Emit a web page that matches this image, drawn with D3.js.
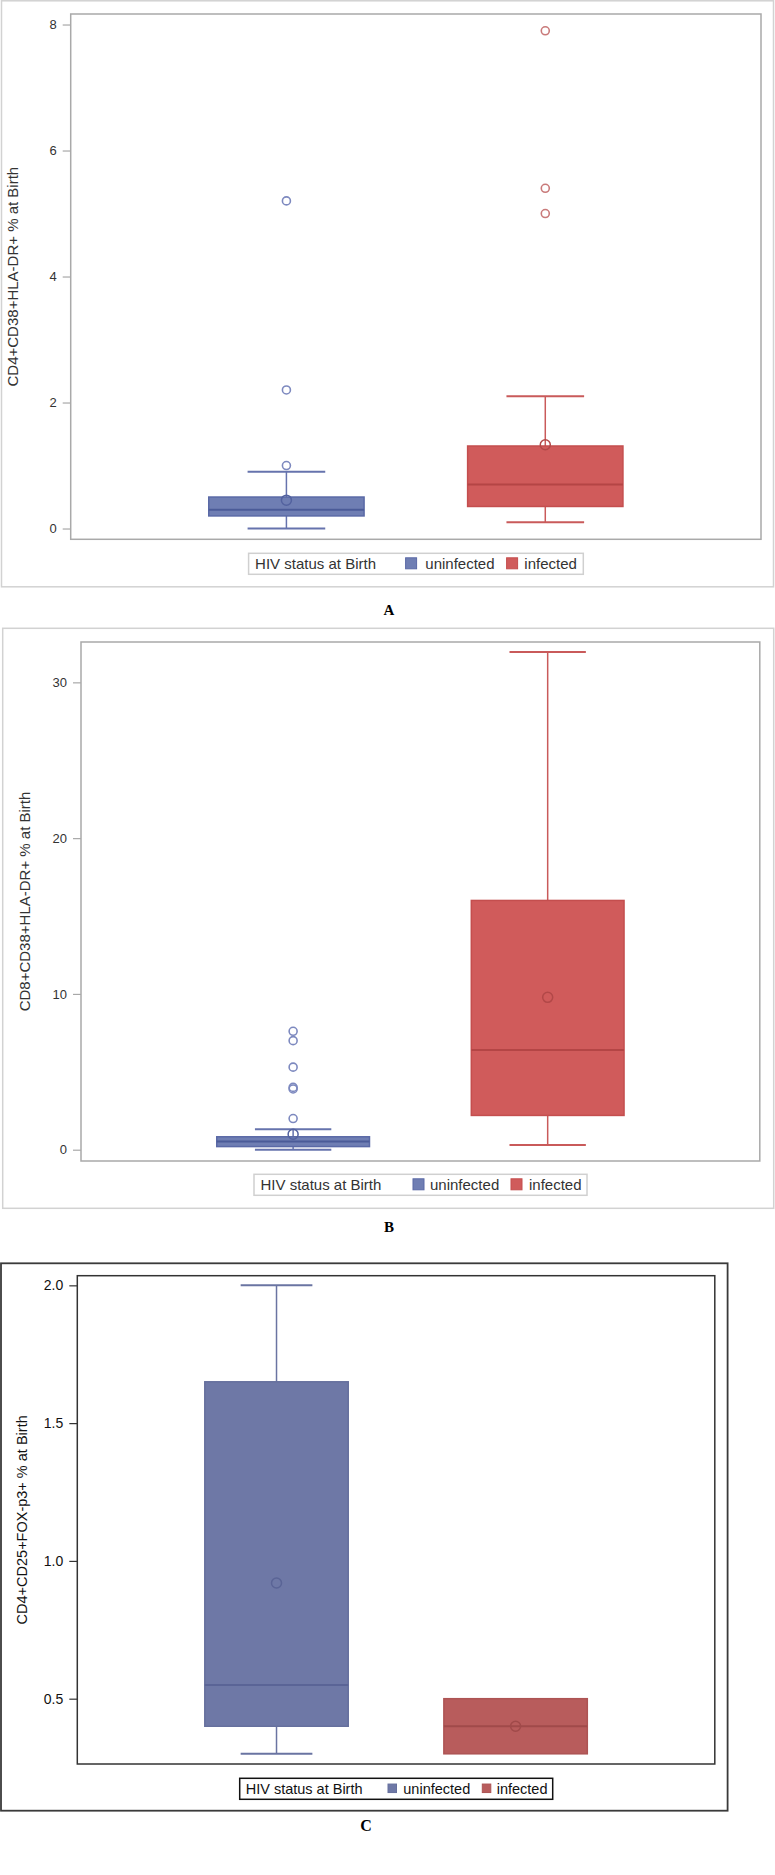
<!DOCTYPE html>
<html>
<head>
<meta charset="utf-8">
<script src="https://cdn.jsdelivr.net/npm/d3@7"></script>
<style>
  body { margin: 0; background: #fff; }
  svg { display: block; font-family: 'Liberation Sans', Arial, sans-serif; }
</style>
</head>
<body>
<div id="chart"></div>
<script>
'use strict';

var groups = ['uninfected', 'infected'];
var legendTitle = 'HIV status at Birth';

// A: CD4+CD38+HLA-DR+
var cd4DrMin = [0, 0.1],
    cd4DrQ1 = [0.2, 0.35],
    cd4DrMedian = [0.3, 0.7],
    cd4DrQ3 = [0.5, 1.31],
    cd4DrMax = [0.9, 2.1],
    cd4DrMean = [0.45, 1.33],
    cd4DrOutliers = [[1.0, 2.2, 5.2], [5.0, 5.4, 7.9]],
    cd4DrTicks = [0, 2, 4, 6, 8];

// B: CD8+CD38+HLA-DR+
var cd8DrMin = [0, 0.3],
    cd8DrQ1 = [0.2, 2.2],
    cd8DrMedian = [0.52, 6.4],
    cd8DrQ3 = [0.83, 16.0],
    cd8DrMax = [1.32, 31.95],
    cd8DrMean = [0.99, 9.78],
    cd8DrOutliers = [[2.0, 3.9, 4.0, 5.3, 7.0, 7.6], []],
    cd8DrTicks = [0, 10, 20, 30];

// C: CD4+CD25+FOX-p3+
var tregMin = [0.3, 0.3],
    tregQ1 = [0.4, 0.3],
    tregMedian = [0.55, 0.4],
    tregQ3 = [1.65, 0.5],
    tregMax = [2.0, 0.5],
    tregMean = [0.92, 0.4],
    tregOutliers = [[], []],
    tregTicks = [0.5, 1.0, 1.5, 2.0];

var svg = d3.select('#chart').append('svg')
    .attr('width', 775)
    .attr('height', 1875);

function stats (min, q1, med, q3, max, mean, outliers) {
    return groups.map(function (g, i) {
        return {group: g, min: min[i], q1: q1[i], median: med[i], q3: q3[i],
            max: max[i], mean: mean[i], outliers: outliers[i]};
    });
}

function drawPanel (cfg) {
    var g = svg.append('g');
    var p = cfg.plot;

    // outer frame
    g.append('rect')
        .attr('x', cfg.outer.x).attr('y', cfg.outer.y)
        .attr('width', cfg.outer.w).attr('height', cfg.outer.h)
        .attr('fill', 'none')
        .attr('stroke', cfg.outerStroke)
        .attr('stroke-width', cfg.outerWidth);

    var y = d3.scaleLinear().domain(cfg.domain).range([p.y + p.h, p.y]);
    var x = d3.scalePoint().domain(groups).range([p.x, p.x + p.w]).padding(0.8333);
    var bw = x.step() * 0.6;

    // y axis
    var axis = g.append('g')
        .attr('transform', 'translate(' + p.x + ',0)')
        .call(d3.axisLeft(y).tickValues(cfg.ticks).tickFormat(d3.format(cfg.fmt))
            .tickSize(8).tickPadding(6));
    axis.select('.domain').remove();
    axis.selectAll('.tick line').attr('stroke', cfg.tickColor).attr('stroke-width', 1.2);
    axis.selectAll('.tick text')
        .attr('fill', cfg.textColor)
        .style('font-size', cfg.tickFont + 'px');

    g.append('text')
        .attr('transform', 'rotate(-90)')
        .attr('x', -(p.y + p.h / 2))
        .attr('y', cfg.labelX)
        .attr('text-anchor', 'middle')
        .attr('fill', cfg.textColor)
        .style('font-size', cfg.labelFont + 'px')
        .text(cfg.yLabel);

    var boxes = g.selectAll('g.box')
        .data(cfg.data)
        .enter().append('g')
        .attr('class', 'box');

    boxes.each(function (d, i) {
        var b = d3.select(this),
            cx = x(d.group),
            col = cfg.colors[i];

        // whiskers
        [[d.q3, d.max], [d.q1, d.min]].forEach(function (w) {
            if (w[0] === w[1]) return;
            b.append('line')
                .attr('x1', cx).attr('x2', cx)
                .attr('y1', y(w[0])).attr('y2', y(w[1]))
                .attr('stroke', col.whisker).attr('stroke-width', 1.5);
            b.append('line')
                .attr('x1', cx - bw / 4).attr('x2', cx + bw / 4)
                .attr('y1', y(w[1])).attr('y2', y(w[1]))
                .attr('stroke', col.whisker).attr('stroke-width', 2);
        });

        b.append('rect')
            .attr('x', cx - bw / 2)
            .attr('y', y(d.q3))
            .attr('width', bw)
            .attr('height', y(d.q1) - y(d.q3))
            .attr('fill', col.fill)
            .attr('stroke', col.stroke)
            .attr('stroke-width', 1.5);

        b.append('line')
            .attr('x1', cx - bw / 2).attr('x2', cx + bw / 2)
            .attr('y1', y(d.median)).attr('y2', y(d.median))
            .attr('stroke', col.median).attr('stroke-width', 2);

        b.append('circle')
            .attr('cx', cx).attr('cy', y(d.mean)).attr('r', 5)
            .attr('fill', 'none')
            .attr('stroke', col.mean).attr('stroke-width', 1.5);

        b.selectAll('circle.out')
            .data(d.outliers)
            .enter().append('circle')
            .attr('class', 'out')
            .attr('cx', cx).attr('cy', function (v) { return y(v); })
            .attr('r', 4)
            .attr('fill', 'none')
            .attr('stroke', col.outlier).attr('stroke-width', 1.6);
    });

    // plot frame
    g.append('rect')
        .attr('x', p.x).attr('y', p.y)
        .attr('width', p.w).attr('height', p.h)
        .attr('fill', 'none')
        .attr('stroke', cfg.plotStroke)
        .attr('stroke-width', 1.5);

    // legend
    var L = cfg.legend;
    var lg = g.append('g').style('font-size', L.font + 'px').attr('fill', cfg.textColor);
    lg.append('rect')
        .attr('x', L.x).attr('y', L.y).attr('width', L.w).attr('height', L.h)
        .attr('fill', '#fff')
        .attr('stroke', L.stroke).attr('stroke-width', 1.5);
    var ty = L.y + L.h / 2;
    lg.append('text').attr('x', L.x + L.title).attr('y', ty).attr('dy', '0.36em')
        .text(legendTitle);
    groups.forEach(function (gr, i) {
        lg.append('rect')
            .attr('x', L.x + L.sw[i]).attr('y', ty - L.ss / 2 - 0.5)
            .attr('width', L.ss).attr('height', L.ss)
            .attr('fill', cfg.colors[i].fill)
            .attr('stroke', cfg.colors[i].stroke);
        lg.append('text').attr('x', L.x + L.tx[i]).attr('y', ty).attr('dy', '0.36em')
            .text(gr);
    });

    svg.append('text')
        .attr('x', cfg.letter.x).attr('y', cfg.letter.y)
        .attr('text-anchor', 'middle')
        .style('font-family', "'Liberation Serif', 'Times New Roman', serif")
        .style('font-weight', 'bold')
        .style('font-size', cfg.letter.size + 'px')
        .text(cfg.letter.text);
}

var sasColors = [
    {fill: '#6f7eb3', stroke: '#5a69a6', median: '#4b5b98', whisker: '#6673ad', mean: '#53629f', outlier: '#7d89bf'},
    {fill: '#d05b5b', stroke: '#c44e4e', median: '#b44545', whisker: '#c95a5a', mean: '#b24848', outlier: '#c97a7a'}
];
var journalColors = [
    {fill: '#6e78a6', stroke: '#66709d', median: '#5a6496', whisker: '#6a74a2', mean: '#5a6496', outlier: '#6e78a6'},
    {fill: '#b85c5c', stroke: '#ad5454', median: '#a04a4a', whisker: '#b05858', mean: '#a04a4a', outlier: '#b85c5c'}
];

drawPanel({
    outer: {x: 1.5, y: 0.8, w: 772, h: 586},
    outerStroke: '#d2d2d2', outerWidth: 1.5,
    plot: {x: 70.7, y: 14, w: 690.3, h: 525.3},
    plotStroke: '#a9a9a9',
    domain: [-0.171, 8.167],
    ticks: cd4DrTicks, fmt: 'd',
    tickColor: '#a8a8a8', textColor: '#333', tickFont: 13,
    yLabel: 'CD4+CD38+HLA-DR+ % at Birth', labelX: 17.5, labelFont: 15,
    data: stats(cd4DrMin, cd4DrQ1, cd4DrMedian, cd4DrQ3, cd4DrMax, cd4DrMean, cd4DrOutliers),
    colors: sasColors,
    legend: {x: 248.6, y: 553.3, w: 334.7, h: 21, font: 15, stroke: '#d0d0d0',
        title: 6.5, sw: [157, 258], tx: [176.7, 275.7], ss: 11},
    letter: {x: 389, y: 615, size: 15, text: 'A'}
});

drawPanel({
    outer: {x: 2.7, y: 628.3, w: 771, h: 580},
    outerStroke: '#d2d2d2', outerWidth: 1.5,
    plot: {x: 81, y: 642, w: 678.8, h: 519},
    plotStroke: '#a9a9a9',
    domain: [-0.725, 32.59],
    ticks: cd8DrTicks, fmt: 'd',
    tickColor: '#a8a8a8', textColor: '#333', tickFont: 13,
    yLabel: 'CD8+CD38+HLA-DR+ % at Birth', labelX: 30, labelFont: 15,
    data: stats(cd8DrMin, cd8DrQ1, cd8DrMedian, cd8DrQ3, cd8DrMax, cd8DrMean, cd8DrOutliers),
    colors: sasColors,
    legend: {x: 254, y: 1174.3, w: 333, h: 21, font: 15, stroke: '#d0d0d0',
        title: 6.5, sw: [159, 257], tx: [176, 275], ss: 11},
    letter: {x: 389, y: 1232, size: 15, text: 'B'}
});

drawPanel({
    outer: {x: 1, y: 1263.3, w: 726.6, h: 547.4},
    outerStroke: '#3a3a3a', outerWidth: 1.8,
    plot: {x: 77.3, y: 1275.7, w: 637.5, h: 488.3},
    plotStroke: '#333',
    domain: [0.263, 2.035],
    ticks: tregTicks, fmt: '.1f',
    tickColor: '#333', textColor: '#111', tickFont: 14,
    yLabel: 'CD4+CD25+FOX-p3+ % at Birth', labelX: 27, labelFont: 14.5,
    data: stats(tregMin, tregQ1, tregMedian, tregQ3, tregMax, tregMean, tregOutliers),
    colors: journalColors,
    legend: {x: 239.7, y: 1778.3, w: 313, h: 21, font: 14.5, stroke: '#111',
        title: 6, sw: [148.3, 242.6], tx: [163.6, 257], ss: 8.5},
    letter: {x: 366, y: 1831, size: 16, text: 'C'}
});
</script>
</body>
</html>
